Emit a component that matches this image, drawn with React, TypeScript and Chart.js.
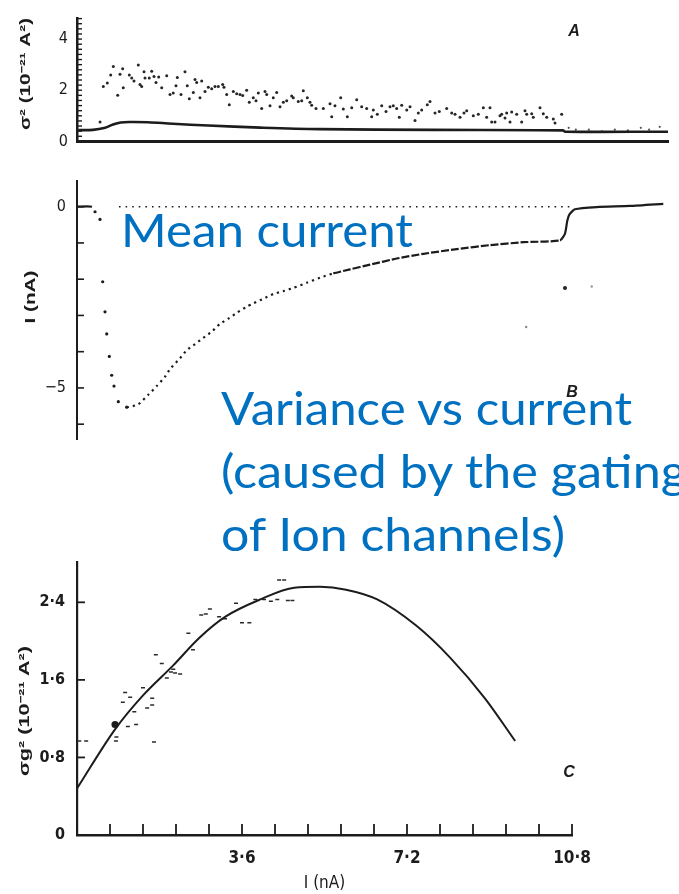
import React, { useEffect, useRef } from 'react';
import { Chart, registerables } from 'chart.js';

Chart.register(...registerables);

// ---------- Panel A : variance vs time ----------
const A_SCATTER_T = [3.9, 4.45, 5.13, 5.70, 6.14, 6.89, 7.28, 7.73, 7.83, 8.85, 9.26, 9.64, 10.37, 10.66, 10.95, 11.34, 11.51, 12.23, 12.64, 13.03, 13.37, 13.82, 14.33, 15.18, 15.74, 16.29, 16.75, 16.97, 17.60, 18.27, 18.66, 19.00, 19.68, 19.97, 20.25, 20.81, 21.10, 21.66, 22.22, 22.79, 23.35, 23.91, 24.65, 24.87, 25.33, 25.77, 26.45, 27.02, 27.58, 28.04, 28.71, 29.15, 29.83, 30.29, 30.68, 31.25, 31.81, 32.10, 32.66, 33.21, 33.79, 34.35, 34.91, 35.48, 36.33, 36.60, 37.44, 38.02, 38.29, 38.97, 39.42, 39.71, 40.44, 41.68, 42.81, 43.10, 43.65, 44.62, 45.06, 45.74, 46.48, 47.33, 48.17, 49.02, 49.86, 50.14, 50.81, 51.56, 52.28, 52.96, 53.52, 54.09, 54.53, 54.94, 55.79, 56.35, 57.19, 57.75, 58.32, 59.27, 59.73, 60.58, 61.30, 62.55, 63.40, 63.96, 64.81, 65.48, 65.94, 67.06, 67.90, 68.75, 69.32, 69.88, 70.17, 70.73, 71.57, 71.86, 72.42, 72.71, 73.27, 73.55, 74.40, 75.24, 75.80, 76.09, 76.94, 77.21, 78.34, 78.90, 79.48, 80.59, 80.88, 82.01];
const A_SCATTER_V = [0.76, 2.15, 2.28, 2.60, 2.93, 1.80, 2.62, 2.84, 2.10, 2.60, 2.48, 2.36, 2.99, 2.22, 2.15, 2.72, 2.48, 2.48, 2.74, 2.54, 2.30, 2.52, 2.10, 2.57, 1.83, 1.89, 2.18, 2.50, 1.83, 2.72, 2.18, 1.67, 1.91, 2.42, 2.30, 1.71, 2.36, 1.95, 2.12, 2.06, 2.15, 2.15, 2.22, 2.12, 1.83, 1.43, 1.95, 1.86, 1.83, 1.79, 2.00, 1.53, 1.71, 1.59, 1.89, 1.29, 1.95, 1.83, 1.39, 1.71, 1.91, 1.35, 1.53, 1.59, 1.77, 1.71, 1.56, 1.59, 1.98, 1.71, 1.53, 1.41, 1.29, 1.29, 1.47, 0.96, 1.39, 1.71, 1.27, 0.96, 1.32, 1.63, 1.35, 1.29, 0.96, 1.23, 1.06, 1.39, 1.17, 1.35, 1.39, 1.29, 0.94, 1.41, 1.23, 1.35, 0.82, 1.11, 1.23, 1.43, 1.56, 1.11, 1.17, 1.29, 1.11, 1.06, 0.94, 1.11, 1.20, 1.00, 1.06, 1.32, 0.94, 1.32, 0.76, 0.76, 1.00, 1.06, 0.91, 1.11, 0.76, 1.15, 1.06, 0.76, 1.20, 1.06, 1.08, 0.94, 1.32, 1.08, 0.94, 0.88, 0.72, 1.06];
const A_TAIL_T = [83.2, 84.4, 86.6, 88.8, 91.0, 93.2, 95.4, 96.8, 98.6];
const A_TAIL_V = [0.53, 0.46, 0.46, 0.39, 0.46, 0.43, 0.53, 0.46, 0.57];
const A_CURVE_T = [0.2, 2.7, 4.6, 6.1, 7.4, 9.0, 12.0, 16.2, 22.2, 31.0, 41.0, 60.2, 82.2, 82.6, 100];
const A_CURVE_V = [0.44, 0.45, 0.52, 0.66, 0.74, 0.76, 0.75, 0.69, 0.62, 0.54, 0.48, 0.45, 0.43, 0.38, 0.38];
const A_Y_TICKS = [0, 0.2, 0.4, 0.6, 0.8, 1, 1.2, 1.4, 1.6, 1.8, 2, 2.2, 2.4, 2.6, 2.8, 3, 3.2, 3.4, 3.6, 3.8, 4, 4.2, 4.4, 4.6, 4.8];
const A_Y_LABELS = [0, 2, 4];

// ---------- Panel B : mean current vs time ----------
const B_T = [0, 2.54, 3.05, 3.89, 4.35, 4.74, 5.03, 5.47, 5.87, 6.26, 6.99, 8.41, 10.37, 12.06, 13.49, 14.89, 15.74, 17.43, 18.56, 19.97, 21.37, 22.79, 24.20, 25.60, 27.02, 28.71, 29.83, 31.52, 33.21, 34.91, 36.60, 38.87, 41.12, 43.37, 46.19, 49.58, 54.09, 58.60, 64.25, 69.88, 75.52, 81.73, 82.57, 82.96, 83.30, 84.26, 87.94, 93.57, 99.2];
const B_V = [0, 0, -0.14, -0.35, -2.07, -2.90, -3.51, -4.13, -4.65, -4.95, -5.38, -5.53, -5.45, -5.19, -4.95, -4.69, -4.48, -4.18, -3.96, -3.79, -3.62, -3.45, -3.23, -3.09, -2.93, -2.76, -2.67, -2.54, -2.41, -2.33, -2.24, -2.10, -1.96, -1.84, -1.73, -1.60, -1.43, -1.30, -1.17, -1.06, -0.98, -0.93, -0.74, -0.39, -0.22, -0.07, -0.01, 0.02, 0.08];
const B_ZERO_T = [7.1, 83.4];
const B_ZERO_V = [0, 0];
const B_STRAY_T = [82.57, 87.09, 76.0];
const B_STRAY_V = [-2.24, -2.20, -3.32];
const B_Y_TICKS = [-6, -5, -4, -3, -2, -1, 0];
const B_Y_LABELS = [0, -5];

// ---------- Panel C : variance vs current ----------
const C_FIT_I = [0, 0.83, 1.44, 2.10, 2.66, 3.23, 4.0, 4.74, 5.3, 5.87, 6.55, 7.4, 8.14, 8.9, 9.56];
const C_FIT_V = [0.48, 1.09, 1.44, 1.75, 2.03, 2.25, 2.43, 2.55, 2.56, 2.53, 2.43, 2.16, 1.83, 1.41, 0.97];
const C_PTS_I = [0.05, 0.2, 0.86, 0.85, 1.05, 1.0, 1.16, 1.11, 1.25, 1.29, 1.44, 1.53, 1.64, 1.64, 1.68, 1.72, 1.85, 1.96, 2.10, 2.14, 2.25, 2.05, 2.43, 2.53, 2.71, 2.81, 2.90, 3.1, 3.23, 3.47, 3.6, 3.76, 3.89, 4.08, 4.23, 4.37, 4.41, 4.52, 4.6, 4.7];
const C_PTS_V = [0.97, 0.97, 1.01, 0.97, 1.47, 1.37, 1.42, 1.12, 1.27, 1.14, 1.52, 1.31, 1.41, 1.34, 0.96, 1.86, 1.77, 1.62, 1.71, 1.67, 1.66, 1.68, 2.08, 1.91, 2.27, 2.28, 2.33, 2.25, 2.23, 2.39, 2.19, 2.19, 2.43, 2.43, 2.41, 2.43, 2.63, 2.63, 2.42, 2.42];
const C_BIG_I = [0.83];
const C_BIG_V = [1.14];
const C_X_TICKS = [0, 0.72, 1.44, 2.16, 2.88, 3.6, 4.32, 5.04, 5.76, 6.48, 7.2, 7.92, 8.64, 9.36, 10.08, 10.8];
const C_X_LABELS = [3.6, 7.2, 10.8];
const C_Y_TICKS = [0, 0.8, 1.6, 2.4];

const INK = '#1c1c1c';
const NUM_FONT = "'Liberation Sans Narrow', 'DejaVu Sans Condensed', 'Liberation Sans', sans-serif";
const TITLE_FONT = "'Liberation Sans', Arial, sans-serif";

const pts = (xs: number[], ys: number[]) => xs.map((x, i) => ({ x, y: ys[i] }));
const dotFmt = (v: number) => (v === 0 ? '0' : v.toFixed(1).replace('.', '·'));

const innerTicks = {
  id: 'innerTicks',
  afterDraw(chart: any, _a: any, opts: any) {
    const ctx = chart.ctx;
    ['x', 'y'].forEach((id) => {
      const o = opts && opts[id];
      const s = chart.scales[id];
      if (!o || !o.length || !s) return;
      ctx.save();
      ctx.strokeStyle = INK;
      ctx.lineWidth = o.width;
      s.ticks.forEach((_t: any, i: number) => {
        const p = s.getPixelForTick(i);
        ctx.beginPath();
        if (s.isHorizontal()) {
          ctx.moveTo(p, s.top);
          ctx.lineTo(p, s.top - o.length);
        } else {
          ctx.moveTo(s.right, p);
          ctx.lineTo(s.right + o.length, p);
        }
        ctx.stroke();
      });
      ctx.restore();
    });
  },
};

const baseGrid = { drawOnChartArea: false, drawTicks: false };
const commonPlugins = { legend: { display: false }, tooltip: { enabled: false } };

function configA(): any {
  return {
    type: 'scatter',
    data: {
      datasets: [
        { type: 'line', data: pts(A_CURVE_T, A_CURVE_V), borderColor: INK, borderWidth: 2.6, pointRadius: 0, tension: 0.35, fill: false },
        { data: pts(A_SCATTER_T, A_SCATTER_V), pointRadius: 1.5, backgroundColor: '#262626', borderWidth: 0 },
        { data: pts(A_TAIL_T, A_TAIL_V), pointRadius: 1.1, backgroundColor: '#555', borderWidth: 0 },
      ],
    },
    options: {
      responsive: false,
      animation: false,
      layout: { padding: { top: 8, right: 11, left: 0, bottom: 0 } },
      plugins: { ...commonPlugins, innerTicks: { y: { length: 5, width: 1.4 } } },
      scales: {
        x: {
          type: 'linear', min: 0, max: 100,
          ticks: { display: false },
          grid: baseGrid,
          border: { display: true, color: INK, width: 3 },
          afterFit: (s: any) => { s.height = 17; },
        },
        y: {
          min: 0, max: 4.8,
          afterBuildTicks: (s: any) => { s.ticks = A_Y_TICKS.map((value) => ({ value })); },
          ticks: {
            autoSkip: false, padding: 9, color: INK,
            font: { family: NUM_FONT, size: 16 },
            callback: (v: number) => (A_Y_LABELS.includes(v) ? String(v) : ''),
          },
          grid: baseGrid,
          border: { display: true, color: INK, width: 2.5 },
          afterFit: (s: any) => { s.width = 77; },
        },
      },
    },
    plugins: [innerTicks],
  };
}

function configB(): any {
  const dropEnd = 11; // the fall before the minimum is drawn as separate dots
  const dotEnd = 33; // dotted recovery up to here, dashed after
  return {
    type: 'scatter',
    data: {
      datasets: [
        { type: 'line', data: pts(B_ZERO_T, B_ZERO_V), borderColor: INK, borderWidth: 1.6, borderDash: [1.6, 5], pointRadius: 0 },
        {
          type: 'line',
          data: pts(B_T, B_V),
          borderColor: INK,
          borderWidth: 2.2,
          tension: 0.2,
          pointRadius: (c: any) => (c.dataIndex >= 2 && c.dataIndex <= dropEnd ? 1.6 : 0),
          pointBackgroundColor: INK,
          pointBorderWidth: 0,
          segment: {
            borderColor: (c: any) => (c.p0DataIndex >= 1 && c.p1DataIndex <= dropEnd ? 'rgba(0,0,0,0)' : INK),
            borderDash: (c: any) =>
              c.p0DataIndex >= dropEnd && c.p1DataIndex <= dotEnd
                ? [2.2, 4]
                : c.p0DataIndex >= dotEnd && c.p1DataIndex <= 41
                ? [8, 2]
                : undefined,
          },
        },
        { data: pts(B_STRAY_T, B_STRAY_V), pointRadius: [2, 1.2, 1.2], backgroundColor: ['#222', '#999', '#888'], borderWidth: 0 },
      ],
    },
    options: {
      responsive: false,
      animation: false,
      layout: { padding: { top: 10, right: 11, left: 0, bottom: 13 } },
      plugins: { ...commonPlugins, innerTicks: { y: { length: 7, width: 1.6 } } },
      scales: {
        x: { type: 'linear', min: 0, max: 100, display: false },
        y: {
          min: -6.42, max: 0.72,
          afterBuildTicks: (s: any) => { s.ticks = B_Y_TICKS.map((value) => ({ value })); },
          ticks: {
            autoSkip: false, padding: 11, color: INK,
            font: { family: NUM_FONT, size: 16 },
            callback: (v: number) => (B_Y_LABELS.includes(v) ? String(v).replace('-', '−') : ''),
          },
          grid: baseGrid,
          border: { display: true, color: INK, width: 2 },
          afterFit: (s: any) => { s.width = 77; },
        },
      },
    },
    plugins: [innerTicks],
  };
}

function configC(): any {
  return {
    type: 'scatter',
    data: {
      datasets: [
        { type: 'line', data: pts(C_FIT_I, C_FIT_V), borderColor: INK, borderWidth: 2, pointRadius: 0, cubicInterpolationMode: 'monotone', fill: false },
        { data: pts(C_PTS_I, C_PTS_V), pointStyle: 'line', pointRadius: 2, borderColor: '#2a2a2a', borderWidth: 1.5 },
        { data: pts(C_BIG_I, C_BIG_V), pointRadius: 3.6, backgroundColor: INK, borderWidth: 0 },
      ],
    },
    options: {
      responsive: false,
      animation: false,
      layout: { padding: { top: 13, right: 107, left: 0, bottom: 0 } },
      plugins: { ...commonPlugins, innerTicks: { x: { length: 11, width: 1.8 }, y: { length: 8, width: 1.8 } } },
      scales: {
        x: {
          type: 'linear', min: 0, max: 10.8,
          afterBuildTicks: (s: any) => { s.ticks = C_X_TICKS.map((value) => ({ value })); },
          ticks: {
            autoSkip: false, maxRotation: 0, padding: 13, color: INK,
            font: { family: NUM_FONT, size: 17, weight: 'bold' },
            callback: (v: number) => (C_X_LABELS.includes(v) ? dotFmt(v) : ''),
          },
          grid: baseGrid,
          border: { display: true, color: INK, width: 2.5 },
          title: { display: true, text: 'I (nA)', color: INK, font: { family: NUM_FONT, size: 17 }, padding: { top: 0, bottom: 0 } },
          afterFit: (s: any) => { s.height = 59; },
        },
        y: {
          min: 0, max: 2.82,
          afterBuildTicks: (s: any) => { s.ticks = C_Y_TICKS.map((value) => ({ value })); },
          ticks: {
            autoSkip: false, padding: 12, color: INK,
            font: { family: NUM_FONT, size: 16, weight: 'bold' },
            callback: (v: number) => dotFmt(v),
          },
          grid: baseGrid,
          border: { display: true, color: INK, width: 2.2 },
          afterFit: (s: any) => { s.width = 77; },
        },
      },
    },
    plugins: [innerTicks],
  };
}

function Panel({ top, height, build }: { top: number; height: number; build: () => any }) {
  const ref = useRef<HTMLCanvasElement>(null);
  useEffect(() => {
    const chart = new Chart(ref.current as HTMLCanvasElement, build());
    return () => chart.destroy();
  }, []);
  return (
    <canvas
      ref={ref}
      width={679}
      height={height}
      style={{ position: 'absolute', left: 0, top, width: 679, height, display: 'block' }}
    />
  );
}

function VTitle({ cx, cy, len, size, children }: { cx: number; cy: number; len: number; size: number; children: string }) {
  return (
    <text
      x={0}
      y={0}
      transform={`translate(${cx},${cy}) rotate(-90)`}
      textAnchor="middle"
      dominantBaseline="central"
      textLength={len}
      lengthAdjust="spacingAndGlyphs"
      fontSize={size}
    >
      {children}
    </text>
  );
}

export default function App() {
  const blue = '#0070C0';
  const blueFont = "Lato, 'Open Sans', 'Noto Sans', sans-serif";
  return (
    <div style={{ position: 'absolute', left: 0, top: 0, width: 679, height: 894, overflow: 'hidden', background: '#ffffff' }}>
      <Panel top={0} height={160} build={configA} />
      <Panel top={160} height={300} build={configB} />
      <Panel top={540} height={354} build={configC} />
      <svg width={679} height={894} style={{ position: 'absolute', left: 0, top: 0, pointerEvents: 'none' }}>
        <g fill={INK} fontFamily={TITLE_FONT} fontWeight="bold">
          <VTitle cx={25} cy={74} len={112} size={14}>σ² (10⁻²¹ A²)</VTitle>
          <VTitle cx={29} cy={297} len={53} size={15}>I (nA)</VTitle>
          <VTitle cx={24} cy={711} len={130} size={14}>σg² (10⁻²¹ A²)</VTitle>
        </g>
        <g fill={INK} fontFamily={TITLE_FONT} fontStyle="italic" fontWeight="bold" fontSize={16} textAnchor="middle">
          <text x={574} y={36}>A</text>
          <text x={572} y={397}>B</text>
          <text x={569} y={777}>C</text>
        </g>
        <g fill={blue} fontFamily={blueFont} fontSize={46}>
          <text x={121} y={247} textLength={292} lengthAdjust="spacingAndGlyphs">Mean current</text>
          <text x={221} y={425} textLength={411} lengthAdjust="spacingAndGlyphs">Variance vs current</text>
          <text x={221} y={488} textLength={466} lengthAdjust="spacingAndGlyphs">(caused by the gating</text>
          <text x={221} y={551} textLength={344} lengthAdjust="spacingAndGlyphs">of Ion channels)</text>
        </g>
      </svg>
    </div>
  );
}
